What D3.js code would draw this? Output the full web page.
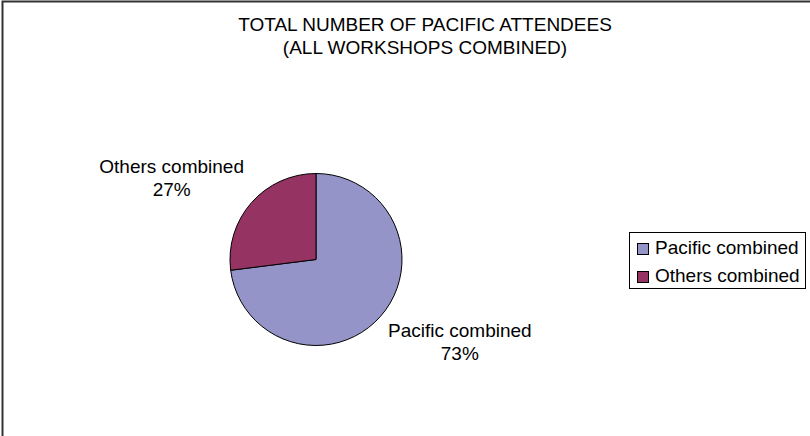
<!DOCTYPE html>
<html>
<head>
<meta charset="utf-8">
<script src="https://cdn.jsdelivr.net/npm/d3@7"></script>
<style>
  html, body { margin: 0; padding: 0; background: #fff; }
  text { font-family: Arial, "Liberation Sans", sans-serif; fill: #000; }
</style>
</head>
<body>
<svg id="chart" width="810" height="436"></svg>
<script>
"use strict";
// data
var categories = ["Pacific combined", "Others combined"];
var shares = [73, 27];
var titleLines = ["TOTAL NUMBER OF PACIFIC ATTENDEES", "(ALL WORKSHOPS COMBINED)"];
var sliceColours = ["#9494c8", "#953462"];

var svg = d3.select("#chart");
var fontSize = 19, lineGap = 23;

// outer chart frame (only top and left edges fall inside the picture)
svg.append("rect")
    .attr("x", 2.5).attr("y", 1.5)
    .attr("width", 1000).attr("height", 1000)
    .style("fill", "none")
    .style("stroke", "#333")
    .style("stroke-width", 2);

// title
svg.append("text")
    .attr("x", 425).attr("y", 31)
    .attr("text-anchor", "middle")
    .style("font-size", fontSize + "px")
    .selectAll("tspan")
    .data(titleLines)
    .enter().append("tspan")
    .attr("x", 425)
    .attr("dy", function (d, i) { return i ? lineGap : 0; })
    .text(function (d) { return d; });

var colour = d3.scaleOrdinal().domain(categories).range(sliceColours);
var total = d3.sum(shares);
var slices = d3.pie().sort(null).value(function (d) { return d.v; })(
    categories.map(function (c, i) { return {name: c, v: shares[i]}; }));

var cx = 316, cy = 259.5, r = 86;
var arc = d3.arc().innerRadius(0).outerRadius(r);
var labelArc = d3.arc().innerRadius(r + 10).outerRadius(r + 10);

var pieG = svg.append("g").attr("transform", "translate(" + cx + "," + cy + ")");
pieG.selectAll("path")
    .data(slices)
    .enter().append("path")
    .attr("d", arc)
    .style("fill", function (d) { return colour(d.data.name); })
    .style("stroke", "#000")
    .style("stroke-width", 1);

// labels: nearest corner of the label block touches a point just outside the rim
var capH = fontSize * 0.716;
slices.forEach(function (d) {
    var p = labelArc.centroid(d);
    var lines = [d.data.name, Math.round(d.data.v / total * 100) + "%"];
    var t = pieG.append("text")
        .attr("text-anchor", "middle")
        .style("font-size", fontSize + "px");
    var spans = t.selectAll("tspan").data(lines).enter().append("tspan")
        .text(function (s) { return s; });
    var w = d3.max(spans.nodes(), function (n) { return n.getComputedTextLength(); });
    var midX = p[0] > 0 ? p[0] + w / 2 : p[0] - w / 2;
    var firstBase = p[1] > 0 ? p[1] + capH : p[1] - lineGap * (lines.length - 1);
    spans.attr("x", midX)
        .attr("y", function (s, i) { return firstBase + i * lineGap; });
});

// legend
var legend = svg.append("g");
legend.append("rect")
    .attr("x", 629.5).attr("y", 232.5)
    .attr("width", 176).attr("height", 56)
    .style("fill", "#fff")
    .style("stroke", "#000")
    .style("stroke-width", 1);

var rows = legend.selectAll("g.row")
    .data(categories)
    .enter().append("g")
    .attr("class", "row")
    .attr("transform", function (d, i) { return "translate(0," + (i * 28) + ")"; });

rows.append("rect")
    .attr("x", 637.5).attr("y", 243.5)
    .attr("width", 11).attr("height", 11)
    .style("fill", function (d) { return colour(d); })
    .style("stroke", "#000")
    .style("stroke-width", 1);

rows.append("text")
    .attr("x", 655).attr("y", 254)
    .style("font-size", fontSize + "px")
    .text(function (d) { return d; });
</script>
</body>
</html>
